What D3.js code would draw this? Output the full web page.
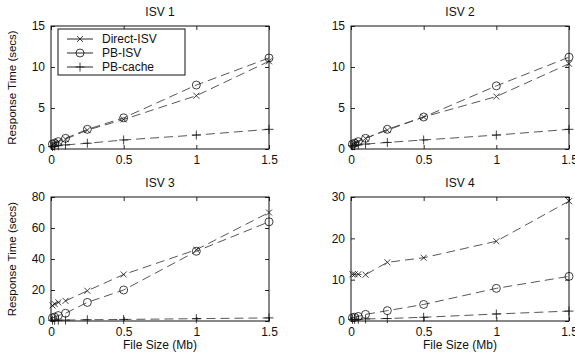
<!DOCTYPE html>
<html>
<head>
<meta charset="utf-8">
<script src="https://cdn.jsdelivr.net/npm/d3@7"></script>
<style>
  html, body { margin: 0; padding: 0; background: #fff; overflow: hidden; }
  svg { display: block; font-family: "Liberation Sans", Arial, Helvetica, sans-serif; }
</style>
</head>
<body>
<svg id="chart" width="575" height="356"></svg>
<script>
// File sizes (Mb) at which response time was measured
const fileSizes = [0.01, 0.025, 0.05, 0.1, 0.25, 0.5, 1.0, 1.5];

const seriesNames = ["Direct-ISV", "PB-ISV", "PB-cache"];
const markerTypes = ["x", "o", "+"];

// Response times (secs) per panel and series
const isv1Direct = [0.6, 0.7, 0.9, 1.2, 2.3, 3.6, 6.5, 10.7];
const isv1PB     = [0.6, 0.7, 0.9, 1.3, 2.4, 3.8, 7.8, 11.1];
const isv1Cache  = [0.3, 0.35, 0.4, 0.5, 0.7, 1.1, 1.7, 2.4];

const isv2Direct = [0.6, 0.7, 0.9, 1.3, 2.3, 3.9, 6.4, 10.4];
const isv2PB     = [0.6, 0.7, 0.9, 1.3, 2.4, 3.9, 7.7, 11.2];
const isv2Cache  = [0.4, 0.4, 0.5, 0.6, 0.8, 1.1, 1.7, 2.4];

const isv3Direct = [10.0, 11.0, 12.0, 13.0, 19.5, 30.0, 46.0, 70.0];
const isv3PB     = [2.0, 2.5, 3.5, 5.0, 12.0, 20.0, 45.0, 64.0];
const isv3Cache  = [0.5, 0.5, 0.5, 0.6, 0.8, 1.0, 1.5, 2.0];

const isv4Direct = [11.3, 11.3, 11.3, 11.2, 14.2, 15.3, 19.3, 29.0];
const isv4PB     = [0.8, 0.9, 1.1, 1.6, 2.5, 4.0, 7.9, 10.8];
const isv4Cache  = [0.4, 0.4, 0.4, 0.5, 0.6, 0.9, 1.7, 2.4];

const panelTitles = ["ISV 1", "ISV 2", "ISV 3", "ISV 4"];
const xTicks = [0, 0.5, 1, 1.5];
const yTicks1 = [0, 5, 10, 15];
const yTicks2 = [0, 5, 10, 15];
const yTicks3 = [0, 20, 40, 60, 80];
const yTicks4 = [0, 10, 20, 30];

const xLabel = "File Size (Mb)";
const yLabel = "Response Time (secs)";

const panels = [
  { title: panelTitles[0], series: [isv1Direct, isv1PB, isv1Cache], yTicks: yTicks1, yMax: 15,
    box: { l: 51, r: 269, t: 26, b: 149 }, ylab: true, xlab: false, legend: true },
  { title: panelTitles[1], series: [isv2Direct, isv2PB, isv2Cache], yTicks: yTicks2, yMax: 15,
    box: { l: 351, r: 569, t: 26, b: 149 }, ylab: false, xlab: false, legend: false },
  { title: panelTitles[2], series: [isv3Direct, isv3PB, isv3Cache], yTicks: yTicks3, yMax: 80,
    box: { l: 51, r: 269, t: 197, b: 321 }, ylab: true, xlab: true, legend: false },
  { title: panelTitles[3], series: [isv4Direct, isv4PB, isv4Cache], yTicks: yTicks4, yMax: 30,
    box: { l: 351, r: 569, t: 197, b: 321 }, ylab: false, xlab: true, legend: false }
];

const svg = d3.select("#chart");
const lineColor = "#444";
const axisColor = "#111";
const fontSize = 12;

function drawMarker(g, type, cx, cy) {
  const m = g.append("g").attr("transform", `translate(${cx},${cy})`)
    .attr("fill", "none").attr("stroke", "#111").attr("stroke-width", 0.8);
  if (type === "x") {
    const s = 3;
    m.append("path").attr("d", `M${-s},${-s}L${s},${s}M${-s},${s}L${s},${-s}`);
  } else if (type === "o") {
    m.append("circle").attr("r", 4);
  } else {
    const s = 4.5;
    m.append("path").attr("d", `M${-s},0L${s},0M0,${-s}L0,${s}`);
  }
}

panels.forEach(p => {
  const { l, r, t, b } = p.box;
  const x = d3.scaleLinear().domain([0, 1.5]).range([l, r]);
  const y = d3.scaleLinear().domain([0, p.yMax]).range([b, t]);
  const g = svg.append("g");

  // Data lines (dashed) with markers
  const line = d3.line().x((d, i) => x(fileSizes[i])).y(d => y(d));
  p.series.forEach((vals, si) => {
    g.append("path").datum(vals)
      .attr("d", line)
      .attr("fill", "none")
      .attr("stroke", lineColor)
      .attr("stroke-width", 0.9)
      .attr("stroke-dasharray", "9,5");
    vals.forEach((v, i) => drawMarker(g, markerTypes[si], x(fileSizes[i]), y(v)));
  });

  // Axes: ticks point inward on all four sides
  const tick = 4;
  g.append("g").attr("transform", `translate(0,${b})`)
    .call(d3.axisBottom(x).tickValues(xTicks).tickSize(-tick).tickPadding(6).tickFormat(d3.format("")))
    .call(a => a.select(".domain").remove());
  g.append("g").attr("transform", `translate(0,${t})`)
    .call(d3.axisTop(x).tickValues(xTicks).tickSize(-tick).tickFormat(""))
    .call(a => a.select(".domain").remove());
  g.append("g").attr("transform", `translate(${l},0)`)
    .call(d3.axisLeft(y).tickValues(p.yTicks).tickSize(-tick).tickPadding(6))
    .call(a => a.select(".domain").remove());
  g.append("g").attr("transform", `translate(${r},0)`)
    .call(d3.axisRight(y).tickValues(p.yTicks).tickSize(-tick).tickFormat(""))
    .call(a => a.select(".domain").remove());

  g.selectAll(".tick line").attr("stroke", axisColor).attr("stroke-width", 0.9);
  g.selectAll(".tick text").attr("fill", "#111").style("font-size", fontSize + "px")
    .style("font-family", "\"Liberation Sans\", Arial, sans-serif");

  g.append("rect").attr("x", l).attr("y", t).attr("width", r - l).attr("height", b - t)
    .attr("fill", "none").attr("stroke", axisColor).attr("stroke-width", 1);

  // Title
  g.append("text").attr("x", (l + r) / 2).attr("y", t - 10)
    .attr("text-anchor", "middle").attr("fill", "#111")
    .style("font-size", fontSize + "px").text(p.title);

  if (p.ylab) {
    g.append("text")
      .attr("transform", `translate(${l - 35},${(t + b) / 2}) rotate(-90)`)
      .attr("text-anchor", "middle").attr("fill", "#111")
      .style("font-size", "11.5px").text(yLabel);
  }
  if (p.xlab) {
    g.append("text").attr("x", (l + r) / 2).attr("y", b + 28)
      .attr("text-anchor", "middle").attr("fill", "#111")
      .style("font-size", fontSize + "px").text(xLabel);
  }

  if (p.legend) {
    const lg = g.append("g");
    lg.append("rect").attr("x", 58).attr("y", 29).attr("width", 127).attr("height", 46)
      .attr("fill", "#fff").attr("stroke", axisColor).attr("stroke-width", 1);
    seriesNames.forEach((name, i) => {
      const yy = 39 + i * 14;
      lg.append("line").attr("x1", 67).attr("x2", 93).attr("y1", yy).attr("y2", yy)
        .attr("stroke", "#111").attr("stroke-width", 0.9);
      drawMarker(lg, markerTypes[i], 80, yy);
      lg.append("text").attr("x", 102).attr("y", yy + 4).attr("fill", "#111")
        .style("font-size", fontSize + "px").text(name);
    });
  }
});
</script>
</body>
</html>
